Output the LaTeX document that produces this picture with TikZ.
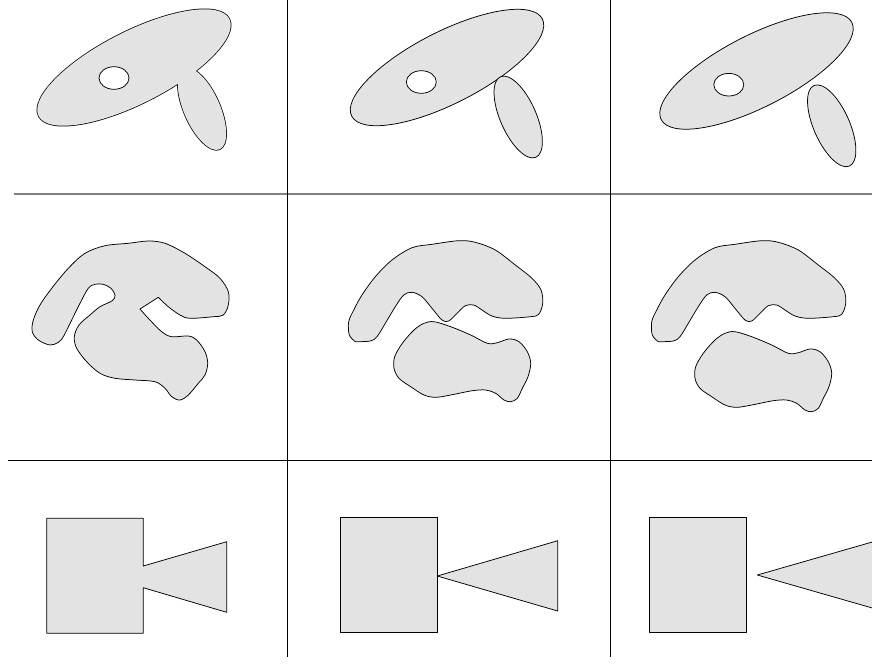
\documentclass[tikz,border=0pt]{standalone}
\definecolor{shapefill}{RGB}{227,227,227}
\begin{document}
\begin{tikzpicture}[x=1pt,y=-1pt,line join=round,
  blob/.style={fill=shapefill,draw=black,line width=0.75pt},
  thickoutline/.style={draw=black,line width=1.5pt},
  holestyle/.style={fill=white,draw=black,line width=0.75pt},
  gridline/.style={line width=1pt}]
\useasboundingbox (0,0) rectangle (872,665);
\clip (0,0) rectangle (872,665);

% ---------- grid ----------
\draw[gridline,draw=gray,line width=1.5pt] (14,194) -- (872,194);
\draw[gridline] (8,460) -- (872,460);
\draw[gridline] (287.5,0) -- (287.5,657);
\draw[gridline] (610.5,0) -- (610.5,657);

% ---------- row 1 ----------
% panel 1: union of big ellipse and lobe
\draw[thickoutline,shift={(134,67.5)},rotate=27] (0,0) ellipse [x radius=107pt,y radius=36pt];
\draw[thickoutline,shift={(202,109)},rotate=23.7] (0,0) ellipse [x radius=18pt,y radius=44pt];
\fill[shapefill,shift={(134,67.5)},rotate=27] (0,0) ellipse [x radius=107pt,y radius=36pt];
\fill[shapefill,shift={(202,109)},rotate=23.7] (0,0) ellipse [x radius=18pt,y radius=44pt];
\draw[holestyle] (114,78) ellipse [x radius=15pt,y radius=11.3pt];
% panel 2
\draw[blob,shift={(447,67.5)},rotate=27] (0,0) ellipse [x radius=107pt,y radius=36pt];
\draw[holestyle] (421.3,82) ellipse [x radius=15pt,y radius=11.3pt];
\draw[blob,shift={(518.2,117)},rotate=23.7] (0,0) ellipse [x radius=18pt,y radius=44pt];
% panel 3
\draw[blob,shift={(756.5,71)},rotate=27] (0,0) ellipse [x radius=107pt,y radius=36pt];
\draw[holestyle] (728.8,84.7) ellipse [x radius=15pt,y radius=11.3pt];
\draw[blob,shift={(831.7,125.8)},rotate=23.7] (0,0) ellipse [x radius=18pt,y radius=44pt];

% ---------- row 2 ----------
\def\UpperBlob{plot[smooth,tension=0.55] coordinates {(658.3,341.7) (652.3,335) (651.7,321.7) (656.7,310) (665,295) (678.3,276.7) (695,260) (715,247.7) (735,244.3) (761.7,240.7) (778.3,242.3) (798.3,250) (818.3,265) (835,278.3) (844,290) (845.7,303.3) (841.7,314.3) (833.3,316.7) (808.3,318.3) (795,316) (785,310) (776.7,305) (768.3,305.7) (760,313.3) (751.7,321) (745,320) (735,308.3) (725,296.7) (715,292.3) (706.7,295) (698.3,306.7) (688.3,323.3) (680,336.7) (673.3,341) (658.3,341.7)} -- cycle}
\def\LowerBlob{plot[smooth cycle,tension=0.55] coordinates {(735,331.7) (751.7,336.7) (771.7,345) (788.3,353.3) (798.3,352.7) (810,349) (820,351.7) (828.3,361.7) (831.7,373.3) (829,386.7) (823.3,398.3) (818.3,408.3) (811.7,411.7) (805,410) (796.7,403.3) (786.7,400) (773.3,400.7) (751.7,405) (736.7,407.3) (725,405) (711.7,396.7) (700,388.3) (695,378.3) (695.7,366.7) (703.3,353.3) (715,340) (725,333.3)}}
% panel 1: merged outline
\draw[blob] plot[smooth,tension=0.55] coordinates {(140,309) (148.3,318.3) (161.7,331.7) (171.7,336.7) (188.3,336) (196.7,340) (205,351.7) (207.7,363.3) (205,375) (198.3,383.3) (188.3,395) (180,400) (171.7,396.7) (165,388.3) (155,381.7) (135,380) (115,378.3) (100,373.3) (86.7,361.7) (76.7,348.3) (74.3,336.7) (79,325) (90,315) (100,306.7) (112.3,300.7) (115,295) (111,288.3) (103.3,284.3) (95,284.3) (88.3,288.3) (80,303.3) (71.7,320) (63.3,336.7) (58.3,342.3) (50,345) (38.3,340) (32.3,331.7) (33.3,320) (40,305) (51.7,288.3) (68.3,268.3) (85,253.3) (105,245.7) (128.3,243.3) (148.3,241) (165,243.3) (185,253.3) (205,266.7) (220,278.3) (228.3,291.7) (228.3,305) (223.3,315) (213.3,316.7) (190,318.3) (180,315) (168.3,306.7) (158.3,297.3)} -- cycle;
% panel 2
\fill[shapefill,shift={(-303,0)}] \UpperBlob;
\fill[shapefill,shift={(-301,-10)}] \LowerBlob;
\draw[draw=black,line width=0.75pt,shift={(-303,0)}] \UpperBlob;
\draw[draw=black,line width=0.75pt,shift={(-301,-10)}] \LowerBlob;
% panel 3
\draw[blob] \UpperBlob;
\draw[blob] \LowerBlob;

% ---------- row 3 ----------
\draw[blob] (46.7,518.3) -- (143.3,518.3) -- (143.3,566) -- (226.7,541.7) -- (226.7,612.3) -- (143.3,587.7) -- (143.3,633.3) -- (46.7,633.3) -- cycle;
\draw[blob] (340.7,517.7) rectangle (437.3,632.7);
\draw[blob] (437.3,576) -- (557.7,540.7) -- (557.7,611) -- cycle;
\draw[blob] (649.3,517.7) rectangle (746,632.7);
\draw[blob] (757.3,575) -- (877.5,540.5) -- (877.5,609.5) -- cycle;
\end{tikzpicture}
\end{document}
